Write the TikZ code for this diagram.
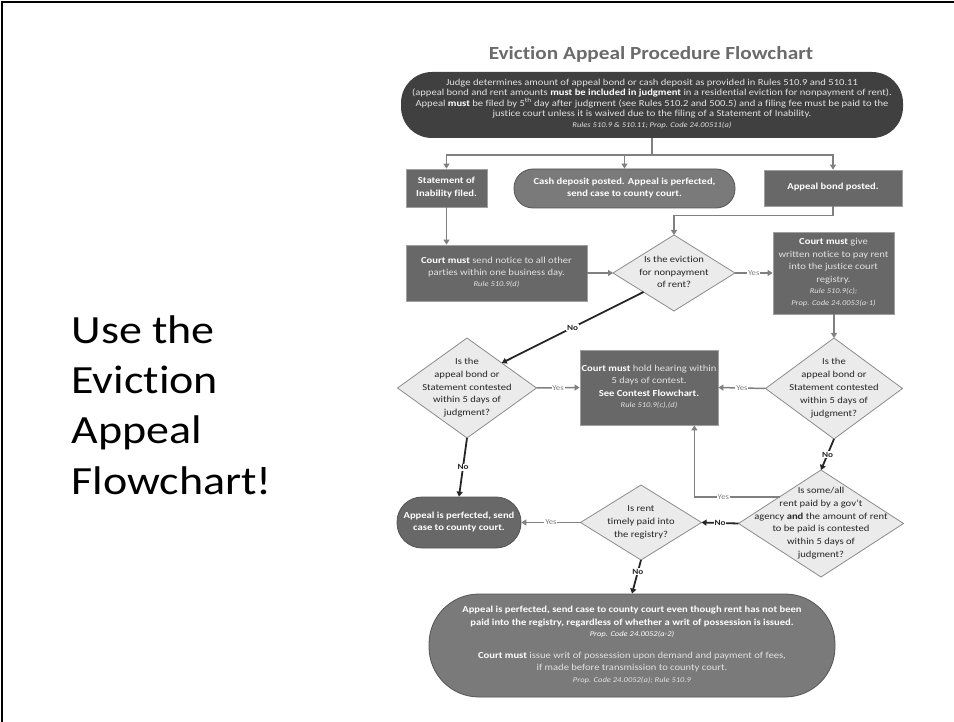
\documentclass[tikz,border=0pt]{standalone}
\usepackage{fontspec}
\usepackage{graphicx}
\setmainfont{Carlito}[FakeStretch=1.15, Ligatures=NoCommon]
\usetikzlibrary{arrows.meta,shapes.geometric}
\definecolor{topfill}{HTML}{404040}
\definecolor{boxfill}{HTML}{686868}
\definecolor{boxline}{HTML}{A0A0A0}
\definecolor{ovalfill}{HTML}{7A7A7A}
\definecolor{ovalline}{HTML}{555555}
\definecolor{diafill}{HTML}{EBEBEB}
\definecolor{dialine}{HTML}{8C8C8C}
\definecolor{connc}{HTML}{808080}
\definecolor{noc}{HTML}{262626}
\definecolor{titlec}{HTML}{6B6B6B}
\definecolor{lighttext}{HTML}{E2E2E2}
\newcommand{\ztext}[1]{\raisebox{-3.4pt}{\smash{\makebox[0pt]{\begin{tabular}{@{}c@{}}#1\end{tabular}}}}}
\newcommand{\refit}[1]{{\fontsize{7.4}{11}\selectfont\itshape #1}}
\newcommand{\wb}[1]{\textbf{\color{white}#1}}
\tikzset{
  rbox/.style={rectangle, fill=boxfill, draw=boxline, line width=0.8pt, text=lighttext,
    font=\fontsize{9.2}{12.6}\selectfont, inner sep=0pt},
  pill/.style={rectangle, fill=ovalfill, draw=ovalline, line width=0.8pt, text=white,
    font=\bfseries\fontsize{9.2}{12.6}\selectfont, inner sep=0pt},
  dia/.style={diamond, fill=diafill, draw=dialine, line width=0.8pt, text=noc,
    font=\fontsize{9.2}{12.8}\selectfont, inner sep=0pt, outer sep=0pt},
  conn/.style={draw=connc, line width=1.5pt, -{Triangle[length=5pt,width=6pt]}},
  connplain/.style={draw=connc, line width=1.5pt},
  noconn/.style={draw=noc, line width=1.8pt, -{Triangle[length=5pt,width=6pt]}},
  yeslbl/.style={fill=white, text=connc, font=\fontsize{7.6}{9}\selectfont, inner sep=0.8pt},
  nolbl/.style={fill=white, text=noc, font=\bfseries\fontsize{8}{9}\selectfont, inner sep=0.8pt}
}
\begin{document}
\begin{tikzpicture}[x=1pt,y=-1pt]
\useasboundingbox (0,0) rectangle (954,722);
\fill[white] (0,0) rectangle (954,722);
\draw[line width=2pt] (2,722) -- (2,2) -- (954,2);

\node[anchor=west, align=left, font=\fontsize{40}{50.3}\selectfont] (side) at (68,405)
  {Use the\\Eviction\\Appeal\\Flowchart!};

\node[text=titlec, font=\bfseries\fontsize{18.5}{22}\selectfont] (title) at (651,54)
  {Eviction Appeal Procedure Flowchart};

\node[rectangle, rounded corners=31pt, fill=topfill, text=lighttext, minimum width=502pt,
  minimum height=66pt, inner sep=0pt, font=\fontsize{9.2}{9.6}\selectfont] (top) at (652,105)
  {\ztext{Judge determines amount of appeal bond or cash deposit as provided in Rules 510.9 and 510.11\\
  (appeal bond and rent amounts \wb{must be included in judgment} in a residential eviction for nonpayment of rent).\\
  Appeal \wb{must} be filed by 5\textsuperscript{th} day after judgment (see Rules 510.2 and 500.5) and a filing fee must be paid to the\\
  justice court unless it is waived due to the filing of a Statement of Inability.\\[1.5pt]
  {\fontsize{7.4}{9}\selectfont\itshape Rules 510.9 \& 510.11; Prop. Code 24.00511(a)}}};

\node[rbox, minimum width=81pt, minimum height=38pt, text=white, font=\bfseries\fontsize{9.2}{12.6}\selectfont] (sif) at (446.5,188)
  {\ztext{Statement of\\Inability filed.}};
\node[pill, rounded corners=19pt, minimum width=221pt, minimum height=39pt] (cash) at (624.5,188.5)
  {\ztext{Cash deposit posted. Appeal is perfected,\\send case to county court.}};
\node[rbox, minimum width=138pt, minimum height=36pt, text=white, font=\bfseries\fontsize{9.2}{12.6}\selectfont] (bond) at (833,188)
  {\ztext{Appeal bond posted.}};

\node[rbox, minimum width=181pt, minimum height=56pt] (csn) at (496.5,273)
  {\ztext{\wb{Court must} send notice to all other\\parties within one business day.\\[-1.5pt]\refit{Rule 510.9(d)}}};
\node[dia, minimum width=122pt, minimum height=76pt] (d1) at (674,273)
  {\ztext{Is the eviction\\for nonpayment\\of rent?}};
\node[rbox, minimum width=121pt, minimum height=82pt] (cmg) at (833.5,273)
  {\ztext{\wb{Court must} give\\written notice to pay rent\\into the justice court\\registry.\\[-1pt]\refit{Rule 510.9(c);}\\[-1pt]\refit{Prop. Code 24.0053(a-1)}}};

\node[dia, minimum width=139pt, minimum height=100pt] (d3) at (467,388)
  {\ztext{Is the\\appeal bond or\\Statement contested\\within 5 days of\\judgment?}};
\node[rbox, minimum width=138pt, minimum height=75pt] (hear) at (649,387.5)
  {\ztext{\wb{Court must} hold hearing within\\5 days of contest.\\\wb{See Contest Flowchart.}\\[-1pt]\refit{Rule 510.9(c),(d)}}};
\node[dia, minimum width=137pt, minimum height=101pt] (d2) at (834,388.5)
  {\ztext{Is the\\appeal bond or\\Statement contested\\within 5 days of\\judgment?}};

\node[pill, fill=boxfill, rounded corners=25pt, minimum width=124pt, minimum height=51pt] (app1) at (459,522.5)
  {\ztext{Appeal is perfected, send\\case to county court.}};
\node[dia, minimum width=121pt, minimum height=75pt] (d5) at (641,522.5)
  {\ztext{Is rent\\timely paid into\\the registry?}};
\node[dia, minimum width=165pt, minimum height=107pt] (d4) at (821,523.5)
  {\ztext{Is some/all\\rent paid by a gov't\\agency \textbf{and} the amount of rent\\to be paid is contested\\within 5 days of\\judgment?}};

\node[pill, rounded corners=50pt, minimum width=406pt, minimum height=103pt] (fin) at (632,645.5)
  {\ztext{Appeal is perfected, send case to county court even though rent has not been\\
  paid into the registry, regardless of whether a writ of possession is issued.\\[-1pt]
  \mdseries\refit{Prop. Code 24.0052(a-2)}\\[9pt]
  \mdseries\color{lighttext}\wb{Court must} issue writ of possession upon demand and payment of fees,\\
  \mdseries\color{lighttext}if made before transmission to county court.\\[-1pt]
  \mdseries\color{lighttext}\refit{Prop. Code 24.0052(a); Rule 510.9}}};

% connectors
\draw[connplain] (top.south) -- ++(0,17) coordinate (br);
\draw[conn] (br) -| (sif.north);
\draw[conn] (br) -| (cash.north);
\draw[conn] (br) -| (bond.north);
\draw[conn] (sif.south) -- (sif.south |- csn.north);
\draw[conn] (csn.east) -- (d1.west);
\draw[conn] (bond.south) -- ++(0,9) -| (d1.north);
\draw[conn] (d1.east) -- node[yeslbl]{Yes} (cmg.west);
\draw[conn] (cmg.south -| d2.north) -- (d2.north);
\draw[noconn] (d1.south west) -- node[nolbl]{No} (d3.north east);
\draw[conn] (d3.east) -- node[yeslbl]{Yes} (hear.west);
\draw[conn] (d2.west) -- node[yeslbl]{Yes} (hear.east);
\draw[noconn] (d3.south) -- node[nolbl]{No} (app1.north);
\draw[noconn] (d2.south) -- node[nolbl]{No} (d4.north);
\draw[conn] (d4.north west) -| node[pos=0.33,yeslbl]{Yes} ([xshift=-24pt]hear.south east);
\draw[noconn] (d4.west) -- node[nolbl]{No} (d5.east);
\draw[conn] (d5.west) -- node[yeslbl]{Yes} (app1.east);
\draw[noconn] (d5.south) -- node[pos=0.35,nolbl]{No} (fin.north);
\end{tikzpicture}
\end{document}
